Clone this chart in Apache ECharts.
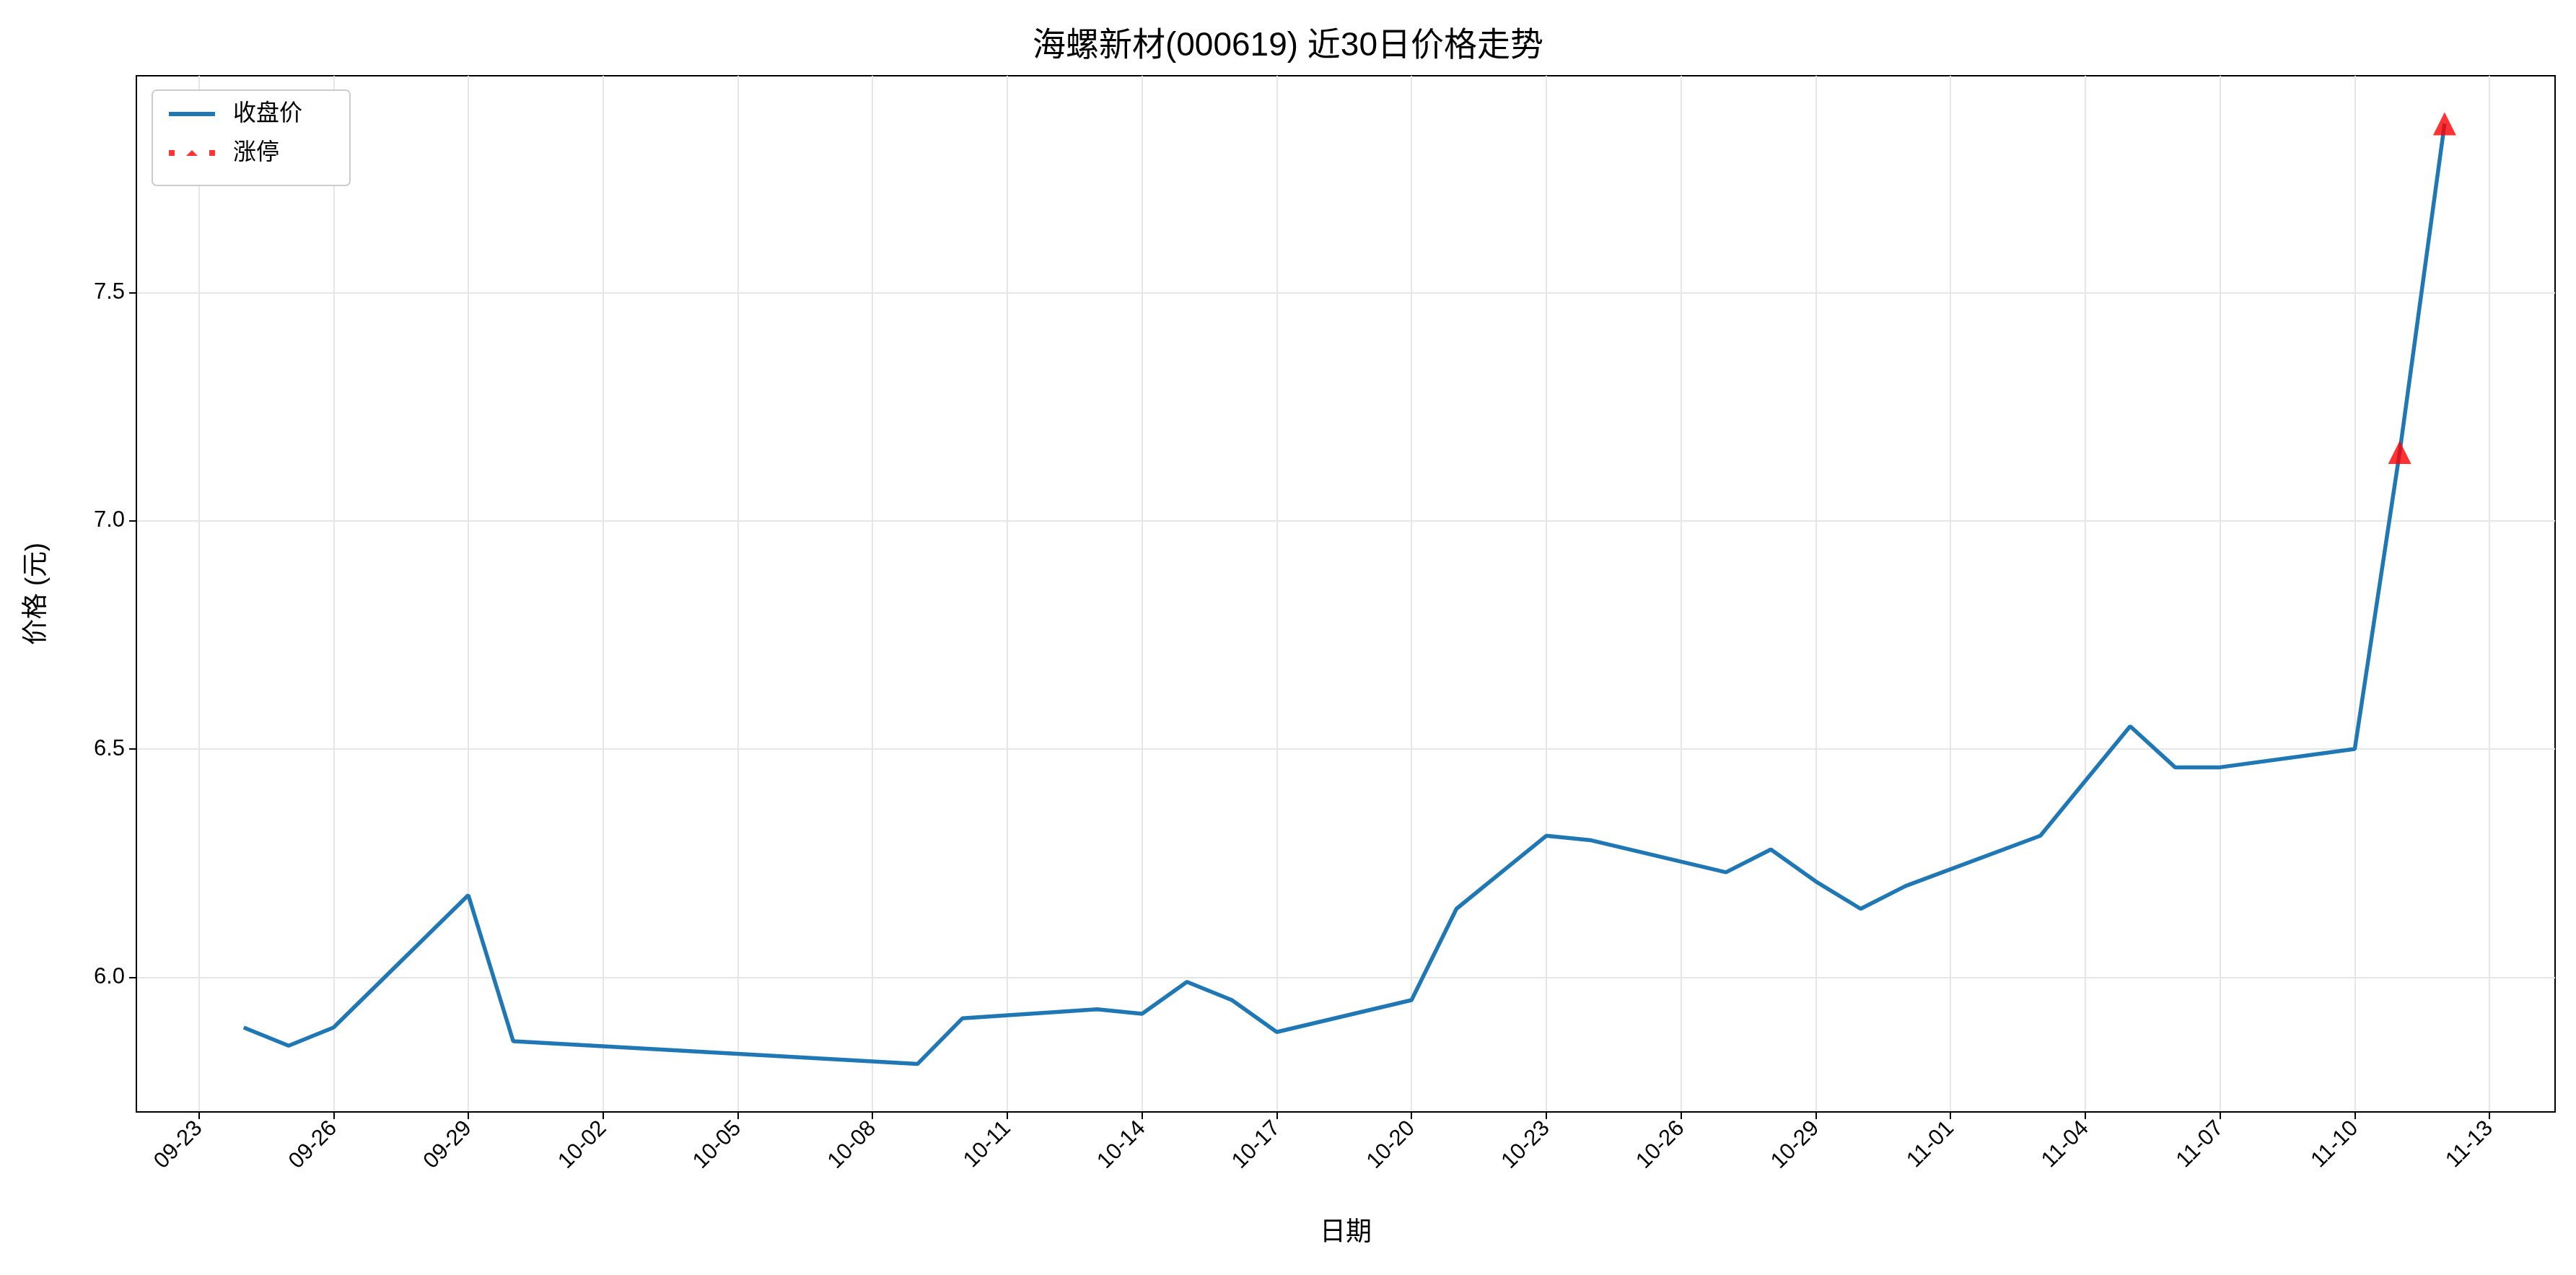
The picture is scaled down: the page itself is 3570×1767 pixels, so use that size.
<!DOCTYPE html>
<html><head><meta charset="utf-8">
<script src="https://cdn.jsdelivr.net/npm/echarts@6/dist/echarts.min.js"></script>
<style>html,body{margin:0;background:#fff}#c{width:3570px;height:1767px}</style>
</head><body><div id="c"></div>
<script>
// 交易日与收盘价
const dates = ['09-24','09-25','09-26','09-29','09-30','10-09','10-10','10-13','10-14','10-15',
  '10-16','10-17','10-20','10-21','10-22','10-23','10-24','10-27','10-28','10-29',
  '10-30','10-31','11-03','11-04','11-05','11-06','11-07','11-10','11-11','11-12'];
const closes = [5.89,5.85,5.89,6.18,5.86,5.81,5.91,5.93,5.92,5.99,
  5.95,5.88,5.95,6.15,6.23,6.31,6.30,6.23,6.28,6.21,
  6.15,6.20,6.31,6.43,6.55,6.46,6.46,6.50,7.15,7.87];
const limitUpDates = ['11-11','11-12'];
const xTickLabels = ['09-23','09-26','09-29','10-02','10-05','10-08','10-11','10-14','10-17','10-20',
  '10-23','10-26','10-29','11-01','11-04','11-07','11-10','11-13'];
const yTicks = [6.0, 6.5, 7.0, 7.5];

// 日期转为距 09-23 的天数
const base = Date.UTC(2025, 8, 23);
const dayNum = s => (Date.UTC(2025, +s.slice(0, 2) - 1, +s.slice(3)) - base) / 86400000;
const tickDays = xTickLabels.map(dayNum);
const labelOf = {};
xTickLabels.forEach(s => { labelOf[dayNum(s)] = s; });

const lineData = dates.map((d, i) => [dayNum(d), closes[i]]);
const limitData = limitUpDates.map(d => [dayNum(d), closes[dates.indexOf(d)]]);

const font = '"Liberation Sans", "Noto Sans CJK SC", sans-serif';
const legendBase = {
  orient: 'vertical', left: 226, padding: [6, 10, 6, 8],
  textStyle: { fontSize: 32, color: '#000', padding: [0, 0, 0, 20] }
};
const chart = echarts.init(document.getElementById('c'));
chart.setOption({
  animation: false,
  textStyle: { fontFamily: font },
  title: { text: '海螺新材(000619) 近30日价格走势', left: 'center', top: 36,
    textStyle: { fontSize: 46, fontWeight: 'normal', color: '#000', fontFamily: font } },
  graphic: [{ type: 'rect', left: 210, top: 124, shape: { width: 274, height: 132, r: 6 },
    style: { fill: '#fff', stroke: '#ccc', lineWidth: 2 }, z: 90 }],
  grid: { left: 189, right: 29, top: 105, bottom: 226, show: true, borderColor: '#000', borderWidth: 2 },
  legend: [
    Object.assign({}, legendBase, { top: 136, itemWidth: 64, itemHeight: 6, z: 100,
      data: [{ name: '收盘价', icon: 'rect' }] }),
    Object.assign({}, legendBase, { top: 190, itemWidth: 64, itemHeight: 30, z: 100,
      data: [{ name: '涨停', icon: 'path://M0,0 L1,0 L1,1 L0,1 Z M3,1 L4,0 L5,1 Z M7,0 L8,0 L8,1 L7,1 Z' }] })
  ],
  xAxis: {
    type: 'value', min: -1.39, max: 52.46,
    name: '日期', nameLocation: 'middle', nameGap: 150,
    nameTextStyle: { fontSize: 36, color: '#000' },
    axisLine: { onZero: false, lineStyle: { color: '#000', width: 2 } },
    axisTick: { show: true, length: 10, customValues: tickDays, lineStyle: { color: '#000', width: 2 } },
    axisLabel: { customValues: tickDays, rotate: 45, fontSize: 31, color: '#000', margin: 18,
      formatter: v => labelOf[v] || '' },
    splitLine: { show: true, lineStyle: { color: '#e6e6e6', width: 2 } }
  },
  yAxis: {
    type: 'value', min: 5.705, max: 7.975,
    name: '价格 (元)', nameLocation: 'middle', nameGap: 120, nameRotate: 90,
    nameTextStyle: { fontSize: 36, color: '#000' },
    axisLine: { show: true, onZero: false, lineStyle: { color: '#000', width: 2 } },
    axisTick: { show: true, length: 10, customValues: yTicks, lineStyle: { color: '#000', width: 2 } },
    axisLabel: { customValues: yTicks, fontSize: 31, color: '#000', margin: 16,
      formatter: v => v.toFixed(1) },
    splitLine: { show: true, lineStyle: { color: '#e6e6e6', width: 2 } }
  },
  series: [
    { name: '收盘价', type: 'line', data: lineData, showSymbol: false,
      lineStyle: { color: '#1f77b4', width: 5.5 }, itemStyle: { color: '#1f77b4' } },
    { name: '涨停', type: 'scatter', data: limitData, symbol: 'triangle', symbolSize: 32,
      itemStyle: { color: '#ff0000' }, z: 5 }
  ]
});
</script>
</body></html>
